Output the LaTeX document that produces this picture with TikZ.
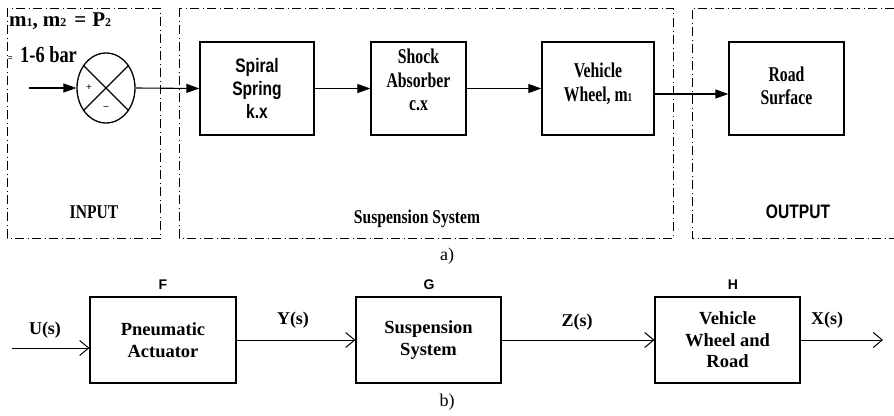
\documentclass[tikz,border=0pt]{standalone}
\usepackage{fontspec}
\setmainfont{Liberation Serif}
\setsansfont{Liberation Sans}
\newfontfamily\condserif[FakeStretch=0.8]{Liberation Serif}
\newfontfamily\narrowserif[FakeStretch=0.75]{Liberation Serif}
\newfontfamily\condsans[FakeStretch=0.8]{Liberation Sans}
\usetikzlibrary{arrows.meta,shapes.geometric}
\newcommand{\subx}[1]{{\fontsize{12}{12}\selectfont #1}}
\tikzset{
  topbox/.style={draw, line width=1.3pt, minimum height=93pt, inner sep=0pt},
  toptext/.style={font=\condserif\bfseries\fontsize{19.5}{23.5}\selectfont, align=center, inner sep=0pt},
  boxtext/.style={font=\narrowserif\bfseries\fontsize{21}{23.5}\selectfont, align=center, inner sep=0pt},
  cornertext/.style={font=\condserif\bfseries\fontsize{23}{24}\selectfont, inner sep=0pt},
  mtextstyle/.style={font=\bfseries\fontsize{21}{24}\selectfont, inner sep=0pt},
  topsans/.style={font=\condsans\bfseries\fontsize{19.5}{23}\selectfont, align=center, inner sep=0pt},
  region/.style={line width=1pt, dash pattern=on 9pt off 3.5pt on 1pt off 3.5pt},
  tarrow/.style={line width=1.1pt, -{Triangle[length=13pt,width=9pt]}},
  botbox/.style={draw, line width=1.1pt, minimum width=145pt, minimum height=86pt, inner sep=0pt,
    font=\bfseries\fontsize{18.5}{21.5}\selectfont, align=center},
  barrow/.style={line width=1pt, -{Straight Barb[length=9pt,width=15pt,line width=1pt]}},
  siglabel/.style={font=\bfseries\fontsize{18}{20}\selectfont, inner sep=0pt},
  blklabel/.style={font=\sffamily\bfseries\fontsize{14}{16}\selectfont, inner sep=0pt},
  caplabel/.style={font=\fontsize{18}{20}\selectfont, inner sep=0pt}
}
\begin{document}
\begin{tikzpicture}[x=1pt,y=-1pt]
\useasboundingbox (0,0) rectangle (894,415);
% ---------- part a) ----------
\draw[region] (7,8) rectangle (160,238);
\draw[region] (179,8) rectangle (673,238);
\draw[region] (894,8) -- (692,8) -- (692,238) -- (894,238);

\node[mtextstyle, anchor=base west] (mtext) at (9,27) {m\subx{1},\hspace{5pt}m\subx{2}\hspace{8pt}=\hspace{6pt}P\subx{2}};
\node[cornertext, anchor=base west] (eqsmall) at (8,61) {\fontsize{10}{10}\selectfont =};
\node[cornertext, anchor=base west] (bartext) at (20,62) {1-6 bar};

\node[draw, ellipse, line width=1.3pt, minimum width=58pt, minimum height=70pt, inner sep=0pt] (sum) at (106,88) {};
\draw[line width=1.2pt] (sum.45) -- (sum.225);
\draw[line width=1.2pt] (sum.135) -- (sum.315);
\node[font=\bfseries\fontsize{10}{10}\selectfont, inner sep=0pt] (plus) at (89,88) {+};
\node[font=\bfseries\fontsize{10}{10}\selectfont, inner sep=0pt] (minus) at (106,108) {--};
\coordinate (inA) at (29,88);

\node[topbox, minimum width=114pt] (spring) at (257,88.5) {};
\node[topsans] (springtext) at (257,88) {Spiral\\Spring\\k.x};
\node[topbox, minimum width=95pt] (shock) at (418.5,88.5) {};
\node[boxtext] (shocktext) at (418.5,80) {Shock\\Absorber\\c.x};
\node[topbox, minimum width=112pt] (wheel) at (598,88.5) {};
\node[boxtext] (wheeltext) at (598,84) {Vehicle\\Wheel, m\subx{1}};
\node[topbox, minimum width=115pt] (road) at (786.5,88.5) {};
\node[boxtext] (roadtext) at (786.5,86) {Road\\Surface};

\draw[tarrow] (inA) -- (sum.west);
\draw[tarrow] (sum.east) -- (spring.west);
\draw[tarrow] (spring.east) -- (shock.west);
\draw[tarrow] (shock.east) -- (wheel.west);
\draw[tarrow] ([yshift=-5.5pt]wheel.east) -- ([yshift=-5.5pt]road.west);

\node[toptext] (inlabel) at (94,212) {INPUT};
\node[toptext] (suslabel) at (417,219) {Suspension System};
\node[topsans] (outlabel) at (798,212) {OUTPUT};

\node[caplabel] (capa) at (447,256) {a)};

% ---------- part b) ----------
\node[botbox, minimum width=146pt] (F) at (163,340) {Pneumatic\\Actuator};
\node[botbox] (G) at (428.5,340) {Suspension\\System};
\node[botbox] (H) at (727.5,340) {Vehicle\\Wheel and\\Road};
\node[blklabel] (Fl) at (163,285) {F};
\node[blklabel] (Gl) at (429,285) {G};
\node[blklabel] (Hl) at (733,285) {H};

\coordinate (uin) at (12,348);
\coordinate (xout) at (883,340);
\draw[barrow] (uin) -- (uin -| F.west);
\draw[barrow] (F.east) -- (G.west);
\draw[barrow] (G.east) -- (H.west);
\draw[barrow] (H.east) -- (xout);

\node[siglabel] (U) at (45,330) {U(s)};
\node[siglabel] (Y) at (293,320) {Y(s)};
\node[siglabel] (Z) at (577,322) {Z(s)};
\node[siglabel] (X) at (827,320) {X(s)};

\node[caplabel] (capb) at (447,402) {b)};
\end{tikzpicture}
\end{document}
